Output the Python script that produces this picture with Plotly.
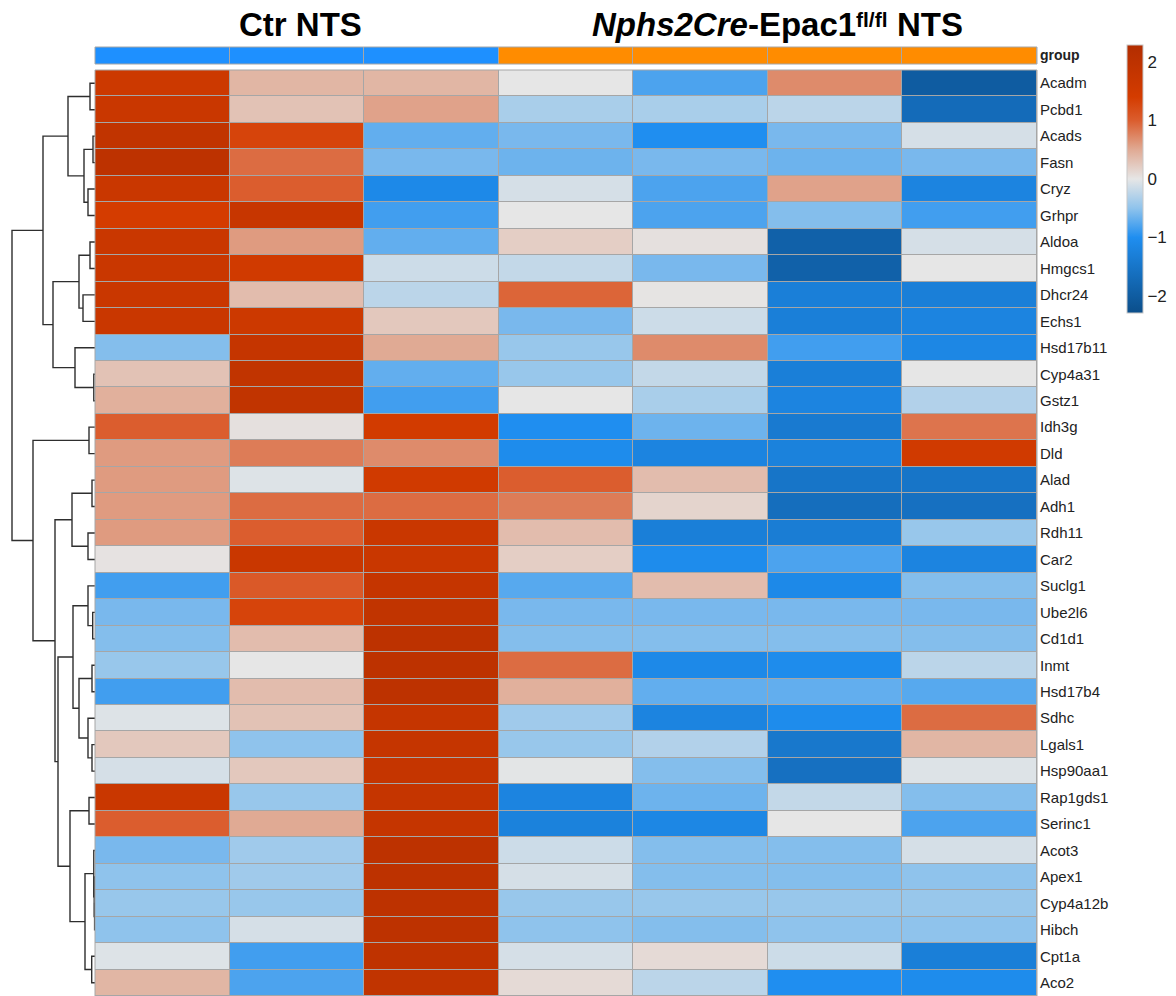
import plotly.graph_objects as go

W, H = 1176, 996

genes = ["Acadm", "Pcbd1", "Acads", "Fasn", "Cryz", "Grhpr", "Aldoa", "Hmgcs1",
         "Dhcr24", "Echs1", "Hsd17b11", "Cyp4a31", "Gstz1", "Idh3g", "Dld", "Alad",
         "Adh1", "Rdh11", "Car2", "Suclg1", "Ube2l6", "Cd1d1", "Inmt", "Hsd17b4",
         "Sdhc", "Lgals1", "Hsp90aa1", "Rap1gds1", "Serinc1", "Acot3", "Apex1",
         "Cyp4a12b", "Hibch", "Cpt1a", "Aco2"]

samples = ["Ctr 1", "Ctr 2", "Ctr 3", "KO 1", "KO 2", "KO 3", "KO 4"]
group = [0, 0, 0, 1, 1, 1, 1]  # 0 = Ctr NTS, 1 = Nphs2Cre-Epac1fl/fl NTS

values = [
    [1.6, 0.4, 0.4, 0.0, -0.8, 0.7, -2.0],
    [1.7, 0.3, 0.55, -0.35, -0.35, -0.25, -1.7],
    [1.9, 1.3, -0.7, -0.6, -1.0, -0.6, -0.1],
    [2.0, 0.9, -0.6, -0.65, -0.6, -0.65, -0.6],
    [1.7, 1.0, -1.1, -0.1, -0.8, 0.55, -1.2],
    [1.4, 1.75, -0.85, 0.0, -0.8, -0.55, -0.85],
    [1.7, 0.6, -0.7, 0.2, 0.05, -1.9, -0.1],
    [1.7, 1.5, -0.15, -0.2, -0.6, -1.9, 0.0],
    [1.7, 0.35, -0.25, 0.95, 0.02, -1.3, -1.3],
    [1.7, 1.6, 0.25, -0.6, -0.15, -1.3, -1.2],
    [-0.55, 1.8, 0.5, -0.45, 0.7, -0.85, -1.15],
    [0.3, 1.9, -0.7, -0.45, -0.2, -1.3, 0.0],
    [0.45, 1.9, -0.85, 0.0, -0.35, -1.2, -0.3],
    [1.0, 0.05, 1.45, -1.0, -0.65, -1.4, 0.85],
    [0.6, 0.8, 0.7, -1.05, -1.2, -1.25, 1.5],
    [0.6, -0.05, 1.5, 1.0, 0.35, -1.5, -1.5],
    [0.6, 0.9, 0.9, 0.8, 0.15, -1.65, -1.6],
    [0.6, 1.0, 1.7, 0.35, -1.3, -1.35, -0.45],
    [0.03, 1.7, 1.7, 0.2, -1.05, -0.8, -1.2],
    [-0.85, 1.05, 1.8, -0.75, 0.35, -1.1, -0.55],
    [-0.6, 1.3, 1.9, -0.6, -0.6, -0.6, -0.6],
    [-0.55, 0.35, 2.0, -0.55, -0.55, -0.55, -0.55],
    [-0.45, 0.0, 2.0, 0.9, -1.1, -1.05, -0.25],
    [-0.85, 0.35, 2.0, 0.45, -0.7, -0.7, -0.75],
    [-0.05, 0.3, 1.8, -0.4, -1.2, -1.05, 0.9],
    [0.25, -0.5, 1.8, -0.45, -0.3, -1.45, 0.4],
    [-0.1, 0.25, 1.8, -0.02, -0.55, -1.6, -0.05],
    [1.7, -0.45, 1.8, -1.2, -0.65, -0.2, -0.55],
    [1.0, 0.5, 1.8, -1.25, -1.15, 0.0, -0.8],
    [-0.6, -0.4, 2.0, -0.15, -0.55, -0.55, -0.1],
    [-0.5, -0.4, 2.0, -0.1, -0.55, -0.55, -0.5],
    [-0.45, -0.45, 2.0, -0.45, -0.45, -0.45, -0.45],
    [-0.5, -0.1, 2.0, -0.5, -0.55, -0.5, -0.5],
    [-0.05, -0.85, 1.95, -0.1, 0.1, -0.15, -1.3],
    [0.4, -0.8, 1.9, 0.1, -0.25, -1.0, -1.05],
]

# Row dendrogram merges: (node name, left child, right child, height)
merges = [
    ("a", 0, 1, 5), ("b", 2, 3, 2), ("c", 4, 5, 7), ("d", "b", "c", 11),
    ("e", "a", "d", 27), ("f", 6, 7, 5), ("g", 8, 9, 12), ("h", "f", "g", 16),
    ("i", 11, 12, 1.2), ("j", 10, "i", 20), ("k", "h", "j", 42), ("l", "e", "k", 52),
    ("m", 13, 14, 6), ("n", 15, 16, 3), ("o", 17, 18, 7), ("p", "n", "o", 23),
    ("q", 20, 21, 2.3), ("r", 19, "q", 7), ("s", 22, 23, 3), ("t", 25, 26, 3),
    ("u", 24, "t", 7), ("v", "s", "u", 16), ("w", "r", "v", 22),
    ("y", 27, 28, 6), ("z1", 31, 32, 0.4), ("z2", 30, "z1", 0.8), ("z3", 29, "z2", 1.2),
    ("z4", 33, 34, 3.3), ("z5", "z3", "z4", 10), ("z6", "y", "z5", 25),
    ("C", "w", "z6", 37), ("B", "p", "C", 40), ("A", "m", "B", 62), ("root", "l", "A", 83),
]

colorbar_ticks = [-2, -1, 0, 1, 2]
colorbar_text = ["\u22122", "\u22121", "0", "1", "2"]
zlim = 2.29

font_family = "Liberation Sans, Arial, sans-serif"

# ---- dendrogram segments ----
pos = {}
hgt = {}
for i in range(len(genes)):
    pos[i] = i
    hgt[i] = 0.0
dx, dy = [], []
for name, lft, rgt, h in merges:
    yl, yr = pos[lft], pos[rgt]
    hl, hr = hgt[lft], hgt[rgt]
    dx += [hl, h, h, hr, None]
    dy += [yl, yl, yr, yr, None]
    pos[name] = (yl + yr) / 2
    hgt[name] = h


def frac(v):
    return (v + zlim) / (2 * zlim)


colorscale = [
    [0.0, "#0b4e8a"],
    [frac(-1.0), "#1f8ef0"],
    [frac(-0.5), "#8fc3ec"],
    [frac(0.0), "#e6e6e6"],
    [frac(0.5), "#e0aa94"],
    [frac(1.0), "#db5d2e"],
    [frac(1.4), "#d43c00"],
    [1.0, "#b22d00"],
]

fig = go.Figure()

hm_left, hm_right = 95 / W, 1037 / W
hm_top = 1 - 70 / H
ann_top, ann_bot = 1 - 47 / H, 1 - 64 / H
grid_col = "#a6a6a6"

# main heatmap
fig.add_trace(go.Heatmap(
    z=values, x=list(range(len(samples))), y=list(range(len(genes))),
    colorscale=colorscale, zmin=-zlim, zmax=zlim,
    xgap=1, ygap=1, xaxis="x", yaxis="y",
    colorbar=dict(
        x=1127 / W, xanchor="left", y=1 - 45 / H, yanchor="top",
        len=268 / H, lenmode="fraction", thickness=16,
        outlinewidth=1, outlinecolor="#c8c8c8",
        tickvals=colorbar_ticks, ticktext=colorbar_text, ticks="",
        tickfont=dict(size=17, color="#222", family=font_family),
        ypad=0, xpad=0,
    ),
    hoverinfo="skip",
))

# group annotation bar
fig.add_trace(go.Heatmap(
    z=[group], x=list(range(len(samples))), y=[0],
    colorscale=[[0, "#1e90ff"], [1, "#ff8c00"]], zmin=0, zmax=1,
    showscale=False, xgap=1, ygap=0, xaxis="x2", yaxis="y2", hoverinfo="skip",
))

# dendrogram
fig.add_trace(go.Scatter(
    x=dx, y=dy, mode="lines", xaxis="x3", yaxis="y3",
    line=dict(color="#2e2e2e", width=1.4), hoverinfo="skip", showlegend=False,
))

shapes = [
    dict(type="rect", xref="paper", yref="paper", x0=hm_left, x1=hm_right, y0=0, y1=hm_top,
         fillcolor=grid_col, line=dict(width=0), layer="below"),
    dict(type="rect", xref="paper", yref="paper", x0=hm_left, x1=hm_right, y0=ann_bot, y1=ann_top,
         fillcolor=grid_col, line=dict(width=0), layer="below"),
    dict(type="rect", xref="paper", yref="paper", x0=hm_left, x1=hm_right, y0=0, y1=hm_top,
         fillcolor="rgba(0,0,0,0)", line=dict(width=1, color=grid_col), layer="above"),
    dict(type="rect", xref="paper", yref="paper", x0=hm_left, x1=hm_right, y0=ann_bot, y1=ann_top,
         fillcolor="rgba(0,0,0,0)", line=dict(width=1, color=grid_col), layer="above"),
]

title_y = 1 - 25 / H
fig.update_layout(
    width=W, height=H,
    margin=dict(l=0, r=0, t=0, b=0),
    paper_bgcolor="white", plot_bgcolor="white",
    font=dict(family=font_family, color="#222"),
    showlegend=False,
    shapes=shapes,
    xaxis=dict(domain=[hm_left, hm_right], range=[-0.5, 6.5], showticklabels=False,
               showgrid=False, zeroline=False, anchor="y"),
    yaxis=dict(domain=[0, hm_top], range=[34.5, -0.5], tickvals=list(range(len(genes))),
               ticktext=genes, side="right", ticks="", showgrid=False, zeroline=False,
               tickfont=dict(size=15, color="#222"), ticklabelstandoff=2, anchor="x"),
    xaxis2=dict(domain=[hm_left, hm_right], range=[-0.5, 6.5], showticklabels=False,
                showgrid=False, zeroline=False, anchor="y2"),
    yaxis2=dict(domain=[ann_bot, ann_top], range=[-0.5, 0.5], tickvals=[0],
                ticktext=["<b>group</b>"], side="right", ticks="", showgrid=False,
                zeroline=False, tickfont=dict(size=14, color="#222"), ticklabelstandoff=2,
                anchor="x2"),
    xaxis3=dict(domain=[0, hm_left], range=[95, 0], visible=False, anchor="y3"),
    yaxis3=dict(domain=[0, hm_top], range=[34.5, -0.5], visible=False, anchor="x3"),
    annotations=[
        dict(text="<b>Ctr NTS</b>", x=300 / W, y=title_y, xref="paper", yref="paper",
             showarrow=False, font=dict(size=33, color="black"), xanchor="center", yanchor="middle"),
        dict(text="<b><i>Nphs2Cre</i>-Epac1</b>", x=858 / W, y=title_y,
             xref="paper", yref="paper", showarrow=False, font=dict(size=33, color="black"),
             xanchor="right", yanchor="middle"),
        dict(text="<b>fl/fl</b>", x=854 / W, y=1 - 19 / H,
             xref="paper", yref="paper", showarrow=False, font=dict(size=21, color="black"),
             xanchor="left", yanchor="middle"),
        dict(text="<b>NTS</b>", x=895 / W, y=title_y,
             xref="paper", yref="paper", showarrow=False, font=dict(size=33, color="black"),
             xanchor="left", yanchor="middle"),
    ],
)

fig.write_html("out.html", config={"displayModeBar": False},
               post_script="document.body.style.margin='0';document.body.style.overflow='hidden';")
